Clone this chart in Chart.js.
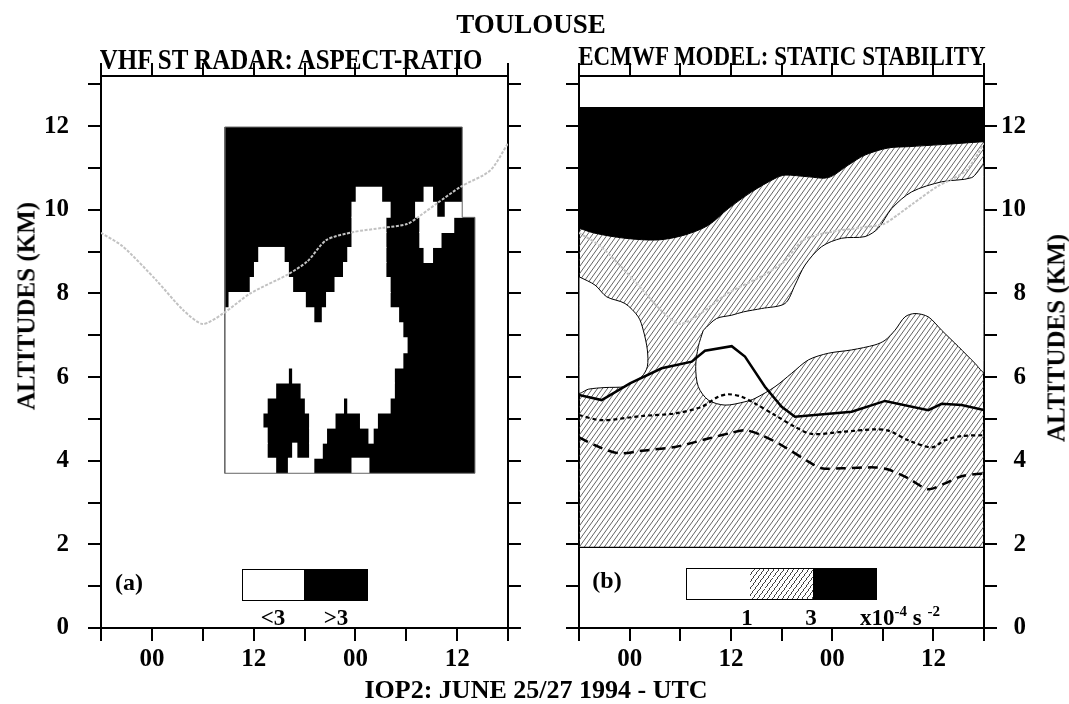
<!DOCTYPE html>
<html>
<head>
<meta charset="utf-8">
<script src="https://cdn.jsdelivr.net/npm/chart.js@4.4.1/dist/chart.umd.min.js"></script>
<style>
  html, body { margin: 0; padding: 0; background: #fff; }
  #page { position: relative; width: 1069px; height: 704px; overflow: hidden;
          font-family: 'Liberation Serif', 'Times New Roman', serif; font-weight: bold; color: #000; }
  canvas { position: absolute; top: 0; }
  .t { position: absolute; white-space: nowrap; transform: translate(-50%, -50%); font-size: 24px; line-height: 1; }
  .tall { transform: translate(-50%, -50%) scaleY(1.15); }
  .rot { transform: translate(-50%, -50%) rotate(-90deg); font-size: 25px; }
  .sw { position: absolute; box-sizing: border-box; }
  sup { font-size: 15px; vertical-align: 9px; line-height: 0; }
</style>
</head>
<body>
<div id="page">
  <canvas id="radar" width="530" height="704" style="left:0"></canvas>
  <canvas id="model" width="529" height="704" style="left:540px"></canvas>

  <div class="t" style="left:531px; top:24px; font-size:27px">TOULOUSE</div>
  <div class="t tall" style="left:291px; top:59px; font-size:25px">VHF ST RADAR: ASPECT-RATIO</div>
  <div class="t tall" style="left:782px; top:56px; font-size:23px">ECMWF MODEL: STATIC STABILITY</div>
  <div class="t" style="left:536px; top:690px; font-size:26px">IOP2: JUNE 25/27 1994 - UTC</div>
  <div class="t rot" style="left:26px; top:306px">ALTITUDES (KM)</div>
  <div class="t rot" style="left:1056px; top:338px">ALTITUDES (KM)</div>

  <!-- panel (a) key -->
  <div class="t" style="left:129px; top:582px">(a)</div>
  <div class="sw" style="left:242px; top:569px; width:63px; height:32px; border:1px solid #000; background:#fff"></div>
  <div class="sw" style="left:304px; top:569px; width:64px; height:32px; background:#000"></div>
  <div class="t" style="left:273px; top:617px; font-size:23px">&lt;3</div>
  <div class="t" style="left:336px; top:617px; font-size:23px">&gt;3</div>

  <!-- panel (b) key -->
  <div class="t" style="left:607px; top:580px">(b)</div>
  <div class="sw" style="left:686px; top:568px; width:65px; height:32px; border:1px solid #000; background:#fff"></div>
  <div class="sw" style="left:750px; top:568px; width:64px; height:32px; border-top:1px solid #000; border-bottom:1px solid #000;
       background:repeating-linear-gradient(126deg, #fff 0px, #fff 3.2px, #444 3.2px, #444 4px)"></div>
  <div class="sw" style="left:813px; top:568px; width:64px; height:32px; background:#000"></div>
  <div class="t" style="left:747px; top:617px; font-size:23px">1</div>
  <div class="t" style="left:811px; top:617px; font-size:23px">3</div>
  <div class="t" style="left:900px; top:617px; font-size:23px">x10<sup>-4</sup> s <sup>-2</sup></div>
</div>

<script>
// ── axes ────────────────────────────────────────────────────────────────────
// time in hours from 00 UTC June 25 (negative = evening of June 24)
var hourMin = -6, hourMax = 42, hourStep = 6;
var labelHours = [0, 12, 24, 36];
var labelText  = ['00', '12', '00', '12'];
var altMin = 0, altMax = 13.2, altStep = 1;

// ── (a) VHF radar aspect ratio raster ───────────────────────────────────────
// outline of the sampled area (aspect ratio > 3 unless listed below)
var radarEdgeHour = [8.6, 38.1, 38.1, 36.6, 36.6, 8.6, 8.6];
var radarEdgeAlt  = [3.7, 3.7, 9.82, 9.82, 11.98, 11.98, 3.7];
// row centres (km); each row is one range gate
var radarRowAlt = [3.88, 4.24, 4.60, 4.96, 5.32, 5.68, 6.04, 6.40, 6.76, 7.12, 7.48, 7.84,
                   8.20, 8.56, 8.92, 9.28, 9.64, 10.00, 10.36, 10.72, 11.08, 11.44, 11.80];
// spans where the aspect ratio is < 3, [from, to] hours, one list per row
var radarClear = [
  [[8.6, 14.6], [16.1, 19.1], [23.6, 25.6]],
  [[8.6, 13.6], [16.6, 17.1], [18.6, 20.1]],
  [[8.6, 13.6], [18.6, 20.6], [25.6, 26.1]],
  [[8.6, 13.1], [18.6, 21.6], [24.6, 26.6]],
  [[8.6, 13.6], [18.1, 22.6], [23.1, 28.1]],
  [[8.6, 14.6], [17.6, 28.6]],
  [[8.6, 16.1], [16.6, 28.6]],
  [[8.6, 29.6]],
  [[8.6, 30.1]],
  [[8.6, 29.6]],
  [[8.6, 19.1], [20.1, 29.1]],
  [[9.1, 18.1], [20.6, 28.1]],
  [[11.6, 16.6], [21.6, 28.1]],
  [[12.1, 16.1], [22.6, 27.6]],
  [[12.6, 15.6], [23.1, 27.6], [32.1, 33.1]],
  [[23.6, 27.6], [31.6, 34.1]],
  [[23.6, 27.6], [31.6, 35.6]],
  [[23.6, 28.1], [31.1, 33.6], [34.6, 36.6]],
  [[24.1, 27.1], [32.1, 33.1]],
  [], [], [], []
];

// tropopause height (drawn on both panels)
var tropoHour = [-6, -3.4, 0.5, 3.7, 6.0, 8.4, 11.6, 15.9, 18.3, 20.6, 23.8, 27.3, 30.1, 31.7, 33.6, 36.4, 39.9, 42];
var tropoAlt  = [9.45, 9.12, 8.32, 7.6, 7.27, 7.52, 8.0, 8.44, 8.76, 9.28, 9.47, 9.57, 9.66, 9.87, 10.15, 10.55, 10.94, 11.59];

// ── (b) ECMWF static stability ──────────────────────────────────────────────
var stableCeiling = 12.46;   // top of the > 3 layer
var stableFloor = 1.93;      // lowest model level shown
// lower edge of the > 3 (black) layer
var strongHour = [-6, -4.1, -0.55, 3.4, 6.56, 9.33, 11.7, 14.47, 17.23, 18.41, 21.18, 23.55, 25.92, 27.9, 30.66, 33.03, 36.98, 42];
var strongAlt  = [9.56, 9.44, 9.32, 9.28, 9.40, 9.63, 10.03, 10.43, 10.75, 10.83, 10.79, 10.77, 11.07, 11.31, 11.48, 11.51, 11.56, 11.63];
// < 1 pocket on the left (closed outline)
var weakWestHour = [-6, -4.1, -2.72, -0.55, 1.03, 1.62, 2.1, 2.1, 1.43, 0.04, -0.55, -2.92, -4.9, -6, -6];
var weakWestAlt  = [8.40, 8.20, 7.92, 7.76, 7.44, 7.12, 6.65, 6.25, 6.01, 5.85, 5.77, 5.75, 5.71, 5.63, 8.40];
// < 1 region in the middle (closed outline)
var weakMidHour = [8.73, 10.3, 12.1, 13.5, 15.65, 18.41, 19.6, 20.79, 22.76, 25.13, 27.9, 29.47, 31.06, 33.43, 36.98, 40.54, 42,
                   42, 40.93, 38.96, 36.98, 35.4, 33.82, 32.64, 31.45, 30.27, 29.08, 26.32, 23.55, 21.18, 19.2, 17.23,
                   14.86, 13.67, 11.3, 9.33, 8.14, 7.83, 8.14, 8.73];
var weakMidAlt  = [7.12, 7.4, 7.48, 7.56, 7.64, 7.76, 8.2, 8.68, 9.12, 9.32, 9.36, 9.56, 10.03, 10.43, 10.67, 10.77, 11.05,
                   6.13, 6.33, 6.73, 7.12, 7.44, 7.52, 7.44, 7.12, 6.88, 6.77, 6.65, 6.57, 6.41, 6.09, 5.77,
                   5.49, 5.41, 5.33, 5.45, 5.77, 6.25, 6.73, 7.12];
// three contour lines
var solidHour = [-6, -3.31, 0.04, 3.8, 7.36, 8.93, 12.1, 13.67, 16.04, 18.02, 19.6, 26.32, 30.27, 35.4, 36.98, 39.35, 42];
var solidAlt  = [5.57, 5.45, 5.85, 6.21, 6.37, 6.63, 6.74, 6.49, 5.77, 5.29, 5.05, 5.17, 5.43, 5.21, 5.36, 5.33, 5.21];
var dotHour = [-6, -3.31, 1.43, 5.38, 8.54, 10.51, 11.7, 13.28, 14.86, 17.23, 19.6, 21.58, 25.13, 29.08, 30.66, 33.03, 35.8, 37.38, 39.35, 42];
var dotAlt  = [5.09, 4.97, 5.07, 5.13, 5.29, 5.53, 5.59, 5.53, 5.37, 5.09, 4.81, 4.64, 4.69, 4.75, 4.72, 4.49, 4.32, 4.49, 4.59, 4.61];
var dashHour = [-6, -4.1, -1.34, 1.43, 5.38, 9.33, 12.1, 13.67, 15.65, 18.02, 21.18, 22.76, 25.13, 29.08, 30.66, 33.03, 35.4, 37.38, 39.35, 42];
var dashAlt  = [4.56, 4.37, 4.18, 4.24, 4.33, 4.53, 4.67, 4.73, 4.61, 4.37, 3.98, 3.82, 3.82, 3.84, 3.79, 3.58, 3.32, 3.46, 3.63, 3.70];

// ── helpers ─────────────────────────────────────────────────────────────────
function pts(xs, ys) {
  return xs.map(function(x, i) { return { x: x, y: ys[i] }; });
}

var FONT = { family: "'Liberation Serif', 'Times New Roman', serif", size: 25, weight: 'bold' };

function hourLabel(v) {
  var i = labelHours.indexOf(v);
  return i < 0 ? '' : labelText[i];
}
function altLabel(v) {
  return v % 2 === 0 ? String(v) : '';
}
function blank() { return ''; }

// framed axis with outward tick marks; size fixes the axis box
function frameAxis(pos, size, cb, pad, cross) {
  var horiz = (pos === 'top' || pos === 'bottom');
  return {
    type: 'linear',
    position: pos,
    min: horiz ? hourMin : altMin,
    max: horiz ? hourMax : altMax,
    offset: false,
    ticks: {
      stepSize: horiz ? hourStep : altStep,
      includeBounds: false,
      autoSkip: false,
      maxRotation: 0,
      minRotation: 0,
      callback: cb,
      font: FONT,
      color: '#000',
      padding: pad || 0,
      crossAlign: cross || 'near'
    },
    grid: { drawOnChartArea: false, drawTicks: true, tickLength: 13, lineWidth: 2, color: '#000', offset: false },
    border: { display: true, width: 2, color: '#000' },
    afterFit: function(s) { if (horiz) s.height = size; else s.width = size; }
  };
}

function hatchPattern() {
  var c = document.createElement('canvas');
  c.width = 5; c.height = 7;
  var g = c.getContext('2d');
  g.strokeStyle = '#3c3c3c';
  g.lineWidth = 0.8;
  [-5, 0, 5].forEach(function(dx) {
    g.beginPath();
    g.moveTo(dx - 1, 8.4);
    g.lineTo(dx + 6, -1.4);
    g.stroke();
  });
  return g.createPattern(c, 'repeat');
}

var baseOptions = function(scales, padRight) {
  return {
    responsive: false,
    animation: false,
    events: [],
    layout: { padding: { left: 0, right: padRight || 0, top: 0, bottom: 0 } },
    plugins: { legend: { display: false }, tooltip: { enabled: false }, title: { display: false } },
    elements: { point: { radius: 0 } },
    scales: scales
  };
};

// ── panel (a) ───────────────────────────────────────────────────────────────
var clearBars = [];
radarClear.forEach(function(spans, i) {
  spans.forEach(function(s) { clearBars.push({ y: radarRowAlt[i], x: [s[0], s[1]] }); });
});
var radarEdge = pts(radarEdgeHour, radarEdgeAlt);

new Chart(document.getElementById('radar'), {
  type: 'line',
  data: {
    datasets: [
      { type: 'line', label: 'Tropopause', data: pts(tropoHour, tropoAlt), borderColor: '#c2c2c2',
        borderWidth: 2, borderDash: [3, 1.5], pointRadius: 0, tension: 0.25, fill: false, order: 0 },
      { type: 'line', label: 'sampled area', data: radarEdge, borderColor: '#6a6a6a', borderWidth: 1,
        pointRadius: 0, tension: 0, fill: false, order: 0.5 },
      { type: 'bar', label: '<3', indexAxis: 'y', data: clearBars, backgroundColor: '#fff', borderWidth: 0,
        grouped: false, barPercentage: 1, categoryPercentage: 1, inflateAmount: 0.5, order: 1 },
      { type: 'line', label: '>3', data: radarEdge, fill: 'shape', backgroundColor: '#000',
        borderColor: '#000', borderWidth: 0, tension: 0, pointRadius: 0, order: 2 }
    ]
  },
  options: baseOptions({
    x:  frameAxis('bottom', 76, hourLabel, 4),
    x2: frameAxis('top', 76, blank),
    y:  frameAxis('left', 101, altLabel, 19),
    y2: frameAxis('right', 22, blank)
  })
});

// ── panel (b) ───────────────────────────────────────────────────────────────
var hatch = hatchPattern();
var strongPts = pts(strongHour, strongAlt);

new Chart(document.getElementById('model'), {
  type: 'line',
  data: {
    datasets: [
      { label: 'Tropopause', data: pts(tropoHour, tropoAlt), borderColor: '#c2c2c2', borderWidth: 2,
        borderDash: [3, 1.5], tension: 0.25, fill: false, order: 0 },
      { label: 'solid', data: pts(solidHour, solidAlt), borderColor: '#000', borderWidth: 2.5,
        tension: 0, fill: false, order: 1 },
      { label: 'dotted', data: pts(dotHour, dotAlt), borderColor: '#000', borderWidth: 2.2,
        borderDash: [4, 3], tension: 0.3, fill: false, order: 1 },
      { label: 'dashed', data: pts(dashHour, dashAlt), borderColor: '#000', borderWidth: 2.5,
        borderDash: [10, 6], tension: 0.3, fill: false, order: 1 },
      { label: 'floor', data: pts([hourMin, hourMax], [stableFloor, stableFloor]), borderColor: '#000',
        borderWidth: 1.2, fill: false, order: 2 },
      { label: '<1 west', data: pts(weakWestHour, weakWestAlt), fill: 'shape', backgroundColor: '#fff',
        borderColor: '#000', borderWidth: 1, tension: 0.3, order: 3 },
      { label: '<1 mid', data: pts(weakMidHour, weakMidAlt), fill: 'shape', backgroundColor: '#fff',
        borderColor: '#000', borderWidth: 1, tension: 0.3, order: 3 },
      { label: '>3', data: strongPts, fill: { value: stableCeiling }, backgroundColor: '#000',
        borderColor: '#000', borderWidth: 1, tension: 0.3, order: 4 },
      { label: '1-3', data: strongPts, fill: { value: stableFloor }, backgroundColor: hatch,
        borderWidth: 0, tension: 0.3, order: 5 }
    ]
  },
  options: baseOptions({
    x:  frameAxis('bottom', 76, hourLabel, 4),
    x2: frameAxis('top', 76, blank),
    y:  frameAxis('right', 42, altLabel, 0, 'far'),
    y2: frameAxis('left', 39, blank)
  }, 43)
});
</script>
</body>
</html>
